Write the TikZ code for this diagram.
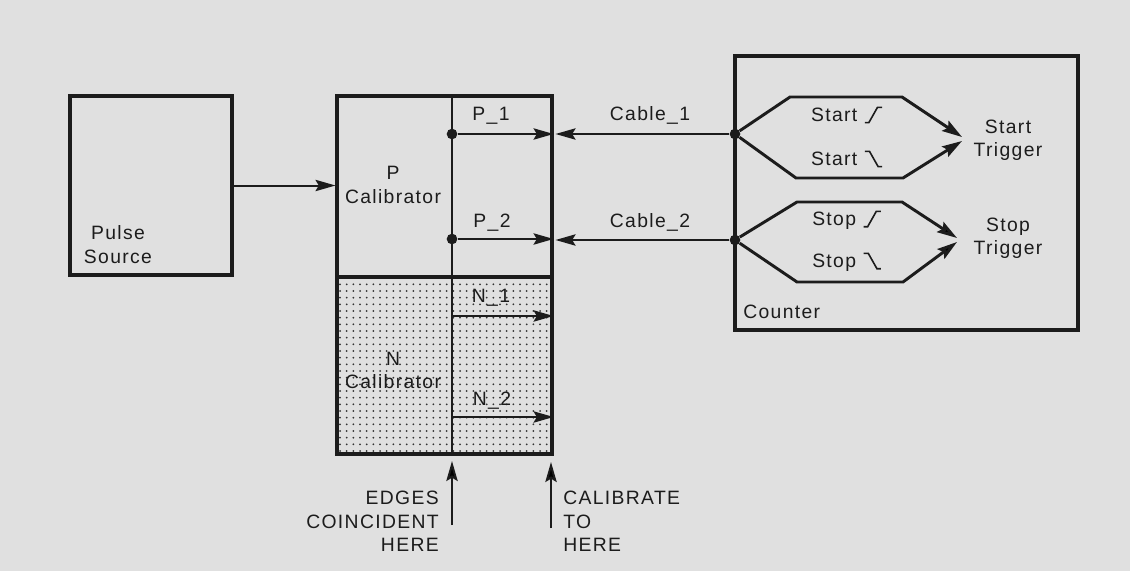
\documentclass[tikz,border=0pt]{standalone}
\usepackage{fontspec}
\setmainfont{Liberation Sans}[LetterSpace=7]
\usetikzlibrary{arrows.meta,patterns.meta}
\newdimen\pxu \pxu=0.75pt
\definecolor{bgpaper}{RGB}{224,224,224}
\definecolor{ink}{RGB}{28,28,28}
\newcommand\risesym{\tikz[baseline=0pt]\draw[ink,line width=1.2pt] (0,-1pt)--(3pt,-1pt)--(9.5pt,10.5pt)--(13pt,10.5pt);}
\newcommand\fallsym{\tikz[baseline=0pt]\draw[ink,line width=1.2pt] (0,10.5pt)--(3.5pt,10.5pt)--(10pt,-1pt)--(13pt,-1pt);}
\tikzset{
  box/.style={draw=ink, line width=2.3pt, inner sep=0pt},
  txt/.style={inner sep=0pt, align=center, text=ink},
  arr/.style={draw=ink, line width=1.5pt, -{Stealth[length=15pt,width=8.5pt,inset=2.5pt]}},
  hexline/.style={draw=ink, line width=2.2pt, -{Stealth[length=15pt,width=9pt,inset=2.5pt]}},
  thinl/.style={draw=ink, line width=1.6pt},
  dot/.style={circle, fill=ink, inner sep=0pt, minimum size=8pt}
}
\begin{document}
\begin{tikzpicture}[x=0.75pt,y=-0.75pt, font=\fontsize{14.5}{17.6}\selectfont]
\fill[bgpaper] (0,0) rectangle (1130,571);
\useasboundingbox (0,0) rectangle (1130,571);

% Pulse source
\node[box, minimum width=162\pxu, minimum height=179\pxu] (ps) at (151,185.5) {};
\node[txt] (pst) at (118,244.5) {Pulse\\Source};

% Calibrators
\node[box, pattern={Dots[distance=5pt,radius=0.75pt]}, pattern color=ink!90,
      minimum width=215\pxu, minimum height=177\pxu] (ncal) at (444.5,365.5) {};
\node[box, minimum width=215\pxu, minimum height=181\pxu] (pcal) at (444.5,186.5) {};
\node[txt] (pct) at (393,185) {P\\Calibrator};
\node[txt] (nct) at (393,370.5) {N\\Calibrator};

\draw[arr] (ps.east) -- (ps.east -| pcal.west);

\coordinate (vtop) at (452,96);
\coordinate (vbot) at (452,454);
\draw[thinl] (vtop) -- (vbot);

\node[dot] (p1) at (452,134) {};
\node[dot] (p2) at (452,239) {};
\draw[arr] (p1) -- (p1 -| pcal.east);
\draw[arr] (p2) -- (p2 -| pcal.east);
\node[txt] (p1l) at (491,116) {P\_1};
\node[txt] (p2l) at (492,223) {P\_2};

\coordinate (n1) at (452,316);
\coordinate (n2) at (452,417);
\draw[arr] (n1) -- (n1 -| ncal.east);
\draw[arr] (n2) -- (n2 -| ncal.east);
\node[txt] (n1l) at (491,298) {N\_1};
\node[txt] (n2l) at (492,401) {N\_2};

% Counter
\node[box, minimum width=343\pxu, minimum height=274\pxu] (cnt) at (906.5,193) {};
\node[txt, anchor=west] (cntl) at (743,312) {Counter};

\node[dot] (c1) at (735,134) {};
\node[dot] (c2) at (735,240) {};
\draw[arr, shorten >=1.5pt] (c1) -- (c1 -| pcal.east);
\draw[arr, shorten >=1.5pt] (c2) -- (c2 -| pcal.east);
\node[txt] (cab1) at (650,115) {Cable\_1};
\node[txt] (cab2) at (650,222) {Cable\_2};

% Start hexagon
\coordinate (st1) at (962,137);
\coordinate (st2) at (962,141);
\draw[hexline] (c1) -- (790,97) -- (902,97) -- (st1);
\draw[hexline] (c1) -- (796,178) -- (903,178) -- (st2);
\node[txt] (sr) at (847,115) {Start \risesym};
\node[txt] (sf) at (847,159) {Start \fallsym};
\node[txt] (stt) at (1008,140.5) {Start\\Trigger};

% Stop hexagon
\coordinate (sp1) at (957,238);
\coordinate (sp2) at (957,242);
\draw[hexline] (c2) -- (797,202) -- (902,202) -- (sp1);
\draw[hexline] (c2) -- (797,282) -- (903,282) -- (sp2);
\node[txt] (pr) at (847,220) {Stop \risesym};
\node[txt] (pf) at (847,262) {Stop \fallsym};
\node[txt] (spt) at (1008,238.5) {Stop\\Trigger};

% Bottom annotations
\coordinate (e1a) at (452,525);
\coordinate (e1b) at (452,461);
\coordinate (e2a) at (551,528);
\coordinate (e2b) at (551,462);
\draw[arr] (e1a) -- (e1b);
\draw[arr] (e2a) -- (e2b);
\node[txt, align=right, anchor=east] (edg) at (439,521.5) {EDGES\\COINCIDENT\\HERE};
\node[txt, align=left, anchor=west] (cal) at (563,521.5) {CALIBRATE\\TO\\HERE};
\end{tikzpicture}
\end{document}
